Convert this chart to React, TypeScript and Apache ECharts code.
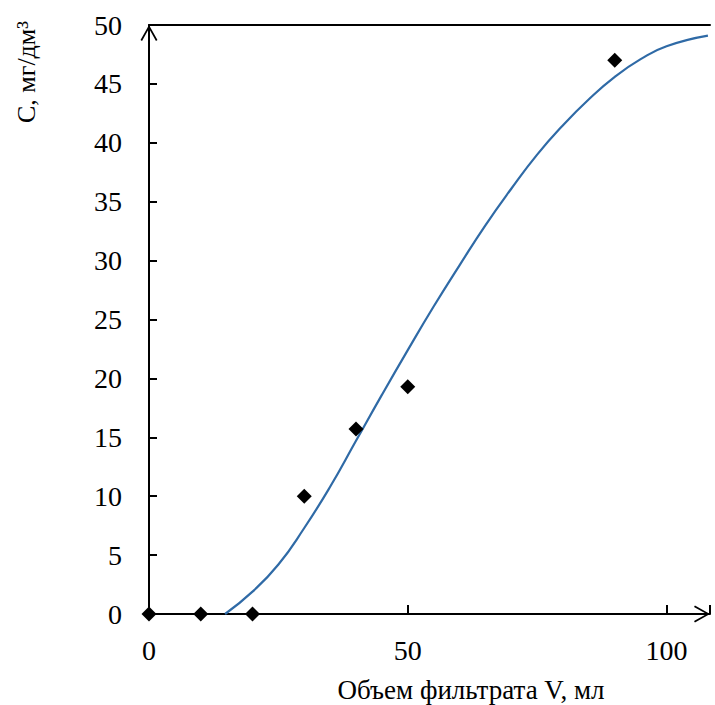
import React, { useEffect, useRef } from "react";
import * as echarts from "echarts";

const xTicks = [0, 50, 100];
const yTickStep = 5;
const xMax = 108.4;
const yMax = 50;

// measured points
const pointsX = [0, 10, 20, 30, 40, 50, 90];
const pointsY = [0, 0, 0, 10, 15.7, 19.3, 47];

// fitted curve
const curveX = [14.7, 20, 25, 30, 35, 40, 45, 50, 55, 60, 65, 70, 75, 80, 85, 90, 95, 100, 108];
const curveY = [0, 1.9, 4.2, 7.3, 10.8, 14.7, 18.6, 22.4, 26.1, 29.6, 33.0, 36.1, 39.0, 41.5, 43.7, 45.6, 47.1, 48.2, 49.1];

const xTitle = "Объем фильтрата V, мл";
const yTitle = "C, мг/дм³";

const FONT = "'Liberation Serif', 'Times New Roman', serif";
const ARROW = "path://M0,16 L9,0 L18,16 L16.4,17 L9,3.6 L1.6,17 Z";

export default function App() {
  const ref = useRef<HTMLDivElement>(null);
  useEffect(() => {
    if (!ref.current) return;
    const chart = echarts.init(ref.current, undefined, { renderer: "svg" });
    const axisLine = {
      show: true,
      symbol: ["none", ARROW],
      symbolSize: [18, 16],
      symbolOffset: [0, -8],
      lineStyle: { color: "#000", width: 2 },
    };
    chart.setOption({
      animation: false,
      backgroundColor: "#fff",
      grid: { left: 149, right: 5, top: 25, bottom: 91, containLabel: false },
      xAxis: [
        {
          type: "value",
          min: 0,
          max: xMax,
          interval: 50,
          axisLine,
          axisTick: { show: true, inside: true, length: 9, lineStyle: { color: "#000", width: 2 } },
          axisLabel: {
            margin: 22,
            fontFamily: FONT,
            fontSize: 28,
            color: "#000",
            customValues: xTicks,
          },
          splitLine: { show: false },
        },
        {
          type: "value",
          position: "top",
          min: 0,
          max: xMax,
          axisLine: { show: true, lineStyle: { color: "#000", width: 2 } },
          axisTick: { show: false },
          axisLabel: { show: false },
          splitLine: { show: false },
        },
      ],
      yAxis: {
        type: "value",
        min: 0,
        max: yMax,
        interval: yTickStep,
        axisLine,
        axisTick: { show: true, inside: true, length: 8, lineStyle: { color: "#000", width: 2 } },
        axisLabel: { margin: 27, fontFamily: FONT, fontSize: 28, color: "#000" },
        splitLine: { show: false },
      },
      graphic: [
        {
          type: "text",
          x: 471,
          y: 690,
          style: {
            text: xTitle,
            font: `27px ${FONT}`,
            fill: "#000",
            align: "center",
            verticalAlign: "middle",
          },
        },
        {
          type: "text",
          x: 26,
          y: 72,
          rotation: Math.PI / 2,
          style: {
            text: yTitle,
            font: `26px ${FONT}`,
            fill: "#000",
            align: "center",
            verticalAlign: "middle",
          },
        },
      ],
      series: [
        {
          type: "line",
          data: curveX.map((x, i) => [x, curveY[i]]),
          smooth: 0.5,
          showSymbol: false,
          lineStyle: { color: "#2F6AA6", width: 2.2 },
          z: 2,
        },
        {
          type: "scatter",
          data: pointsX.map((x, i) => [x, pointsY[i]]),
          symbol: "diamond",
          symbolSize: 15,
          itemStyle: { color: "#000", opacity: 1 },
          z: 3,
        },
      ],
    });
    return () => chart.dispose();
  }, []);
  return (
    <div
      ref={ref}
      style={{ position: "fixed", left: 0, top: 0, width: 715, height: 705, background: "#fff" }}
    />
  );
}
